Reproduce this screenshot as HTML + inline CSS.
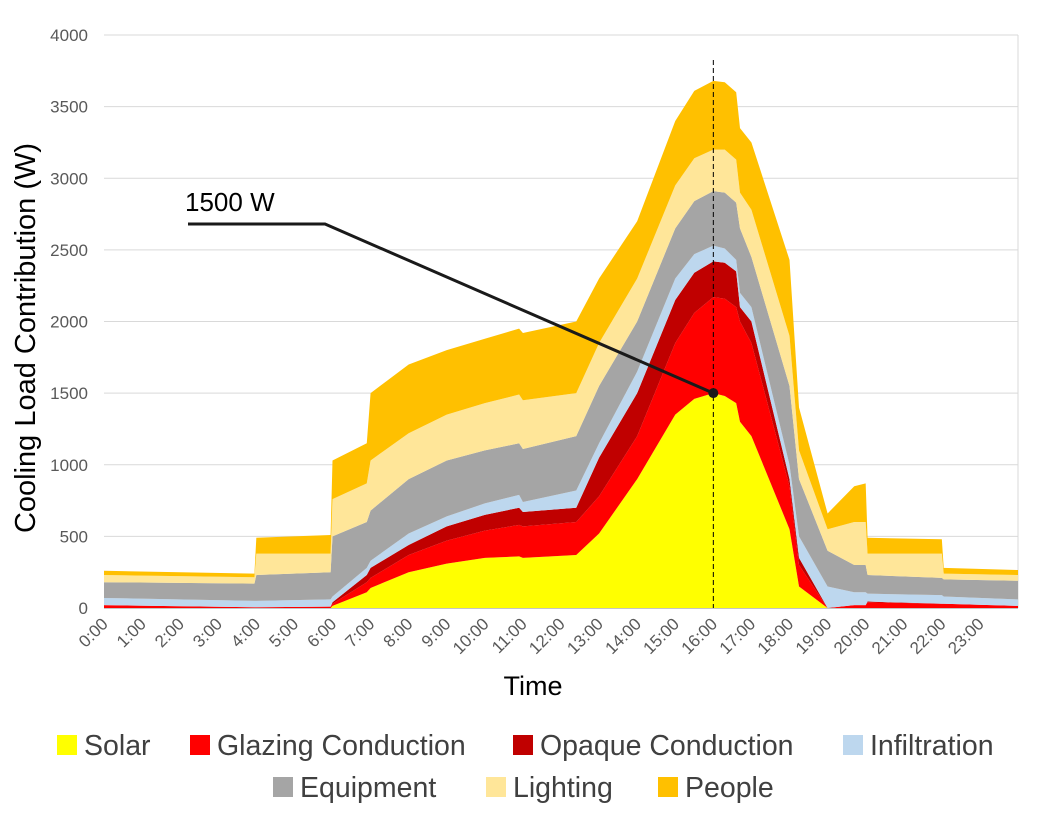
<!DOCTYPE html>
<html><head><meta charset="utf-8"><style>
body{margin:0;background:#fff;}
svg text{font-family:"Liberation Sans",sans-serif;}
</style></head><body>
<svg id="chart" width="1048" height="815" xmlns="http://www.w3.org/2000/svg"></svg>
<script>
const times=[0,3.95,4,5.95,6,6.9,7,8,9,10,10.9,11,12.4,13,14,15,15.5,16,16.3,16.6,16.7,17,18,18.25,19,19.7,20,20.05,22,22.05,24];
const solar=[0,0,0,0,15,110,140,250,310,350,360,350,370,520,900,1350,1460,1500,1480,1430,1300,1200,550,150,0,0,0,0,0,0,0];
const glazing=[20,5,5,10,15,70,70,120,160,190,220,220,230,260,300,500,600,670,680,670,700,650,300,150,0,20,20,40,30,30,15];
const opaque=[0,0,0,0,10,50,70,70,100,110,120,100,100,270,300,300,280,250,250,250,100,150,50,50,0,0,0,5,0,0,0];
const infiltration=[50,45,45,50,40,50,50,80,70,80,90,70,120,100,150,150,130,110,100,80,100,100,100,150,150,90,90,55,60,50,45];
const equipment=[110,120,180,190,420,320,350,380,390,370,360,370,380,400,350,350,370,380,390,400,450,350,550,400,250,190,190,130,120,120,130];
const lighting=[50,45,150,130,260,270,350,320,320,330,340,340,300,300,300,300,300,290,300,300,250,330,350,200,150,300,300,150,170,40,40];
const people=[30,25,110,130,270,280,470,480,450,450,460,470,500,450,400,450,470,480,470,470,450,470,530,300,110,250,270,110,100,40,35];
const seriesNames=["Solar","Glazing Conduction","Opaque Conduction","Infiltration","Equipment","Lighting","People"];
const seriesColors=["#ffff00","#ff0000","#c00000","#bdd7ee","#a5a5a5","#ffe699","#ffc000"];
const yTicks=[0,500,1000,1500,2000,2500,3000,3500,4000];
const xTickLabels=["0:00","1:00","2:00","3:00","4:00","5:00","6:00","7:00","8:00","9:00","10:00","11:00","12:00","13:00","14:00","15:00","16:00","17:00","18:00","19:00","20:00","21:00","22:00","23:00"];
const markerTime=16, markerValue=1500;

const svg=document.getElementById('chart');
const NS="http://www.w3.org/2000/svg";
const X0=104,X1=1018,Y0=608,Y1=35;
const xs=t=>X0+(X1-X0)*t/24;
const ys=v=>Y0-(Y0-Y1)*v/4000;
function mk(tag,attrs,parent){const e=document.createElementNS(NS,tag);for(const k in attrs)e.setAttribute(k,attrs[k]);(parent||svg).appendChild(e);return e;}

yTicks.forEach(v=>{
  const l=mk('line',{x1:X0,x2:X1,y1:ys(v),y2:ys(v),stroke:v===0?'#888':'#d9d9d9','stroke-width':1});
  
  
  const t=mk('text',{x:88,y:ys(v)+6,'text-anchor':'end','font-size':17,fill:'#595959'});
  t.textContent=v;
  
  
});
const rb=mk('line',{x1:X1,x2:X1,y1:Y1,y2:Y0,stroke:'#d9d9d9'});



const all=[solar,glazing,opaque,infiltration,equipment,lighting,people];
let base=times.map(()=>0);
all.forEach((arr,si)=>{
  const top=base.map((b,i)=>b+arr[i]);
  let d='M'+times.map((t,i)=>xs(t)+','+ys(top[i])).join(' L');
  for(let i=times.length-1;i>=0;i--) d+=' L'+xs(times[i])+','+ys(base[i]);
  d+='Z';
  const p=mk('path',{d:d,fill:seriesColors[si]});
  
  
  base=top;
});

xTickLabels.forEach((lab,i)=>{
  const x=xs(i)+5,y=625;
  const t=mk('text',{x:x,y:y,'text-anchor':'end','font-size':17,fill:'#595959',transform:`rotate(-45 ${x} ${y})`});
  t.textContent=lab;
  
  
});

const mx=xs(markerTime),my=ys(markerValue);
const dl=mk('line',{x1:mx,x2:mx,y1:60,y2:Y0,stroke:'#000','stroke-dasharray':'5,3','stroke-width':1});


const al=mk('polyline',{points:`188,224 325,224 ${mx},${my}`,fill:'none',stroke:'#1a1a1a','stroke-width':3});


const dot=mk('circle',{cx:mx,cy:my,r:5,fill:'#1a1a1a'});


const at=mk('text',{x:185,y:211,'font-size':26,fill:'#000'});
at.textContent=markerValue+' W';



const yt=mk('text',{x:35,y:338,'text-anchor':'middle','font-size':29,fill:'#000',transform:'rotate(-90 35 338)'});
yt.textContent='Cooling Load Contribution (W)';


const xt=mk('text',{x:533,y:695,'text-anchor':'middle','font-size':27,fill:'#000'});
xt.textContent='Time';



const legPos=[[57,745],[190,745],[513,745],[843,745],[273,787],[486,787],[658,787]];
seriesNames.forEach((n,i)=>{
  const [x,y]=legPos[i];
  const g=mk('g',{});
  
  
  mk('rect',{x:x,y:y-10,width:20,height:20,fill:seriesColors[i]},g);
  const t=mk('text',{x:x+27,y:y+10,'font-size':28.5,fill:'#404040'},g);
  t.textContent=n;
});
</script>
</body></html>
